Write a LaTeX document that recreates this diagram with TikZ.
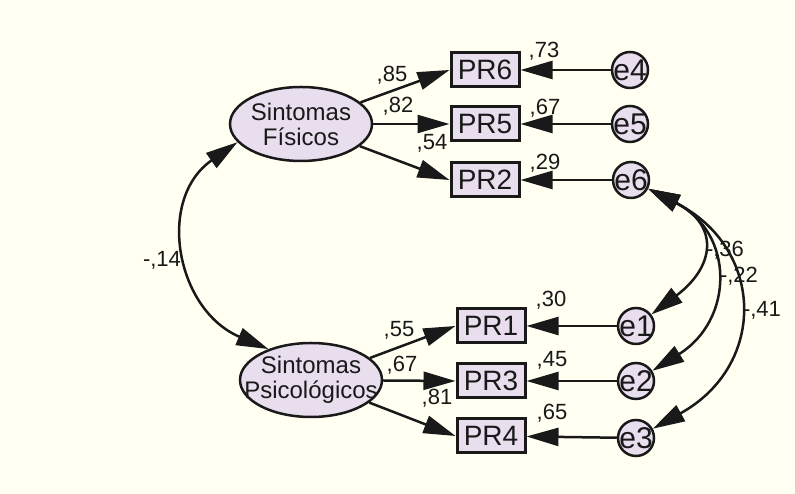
\documentclass[tikz,border=0pt]{standalone}
\usepackage{fontspec}
\setmainfont{Liberation Sans}
\usetikzlibrary{arrows.meta,shapes.geometric}
\definecolor{bg}{RGB}{255,255,242}
\definecolor{nodefill}{RGB}{232,222,238}
\definecolor{ink}{RGB}{25,25,25}
\begin{document}
\begin{tikzpicture}[x=1pt,y=1pt,
  latent/.style={ellipse,draw=ink,line width=2.5pt,fill=nodefill,minimum width=142pt,minimum height=74pt,inner sep=0pt},
  latenttext/.style={align=center,inner sep=0pt,text=ink,font=\fontsize{24}{25}\selectfont},
  obs/.style={rectangle,draw=ink,line width=3pt,fill=nodefill,minimum width=68pt,minimum height=34pt,inner sep=0pt,text=ink,font=\fontsize{28}{30}\selectfont},
  err/.style={circle,draw=ink,line width=2.5pt,fill=nodefill,minimum size=36pt,inner sep=0pt},
  errtext/.style={inner sep=0pt,text=ink,font=\fontsize{30}{32}\selectfont},
  lab/.style={font=\fontsize{22}{24}\selectfont,anchor=base,inner sep=0pt,text=ink},
  arr/.style={draw=ink,line width=2.5pt,-{Triangle[length=32pt,width=18pt]}},
  dbl/.style={draw=ink,line width=2.5pt,{Triangle[length=32pt,width=18pt]}-{Triangle[length=32pt,width=18pt]}}
]
\fill[bg] (0,0) rectangle (795,494);
\useasboundingbox (0,0) rectangle (795,494);

% latent variables
\node[latent] (F) at (301,370) {};
\node[latenttext] (Ft) at (301,370) {Sintomas\\Físicos};
\node[latent] (P) at (311,114) {};
\node[latenttext] (Pt) at (311,114) {Sintomas\\Psicológicos};

% observed
\node[obs] (pr6) at (485,424) {PR6};
\node[obs] (pr5) at (485,370) {PR5};
\node[obs] (pr2) at (485,314) {PR2};
\node[obs] (pr1) at (491,168) {PR1};
\node[obs] (pr3) at (491,113) {PR3};
\node[obs] (pr4) at (491,58) {PR4};

% errors
\node[err] (e4) at (630,424) {};
\node[err] (e5) at (630,370) {};
\node[err] (e6) at (631,314) {};
\node[err] (e1) at (636,168) {};
\node[err] (e2) at (636,113) {};
\node[err] (e3) at (636,56) {};
\node[errtext] (t4) at (e4) {e4};
\node[errtext] (t5) at (e5) {e5};
\node[errtext] (t6) at (e6) {e6};
\node[errtext] (t1) at (e1) {e1};
\node[errtext] (t2) at (e2) {e2};
\node[errtext] (t3) at (e3) {e3};

% loadings
\draw[arr] (F) -- (pr6.west);
\draw[arr] (F) -- (pr5.west);
\draw[arr] (F) -- (pr2.west);
\draw[arr] (P) -- (pr1.west);
\draw[arr] (P) -- (pr3.west);
\draw[arr] (P) -- (pr4.west);

% error paths
\draw[arr] (e4) -- (pr6);
\draw[arr] (e5) -- (pr5);
\draw[arr] (e6) -- (pr2);
\draw[arr] (e1) -- (pr1);
\draw[arr] (e2) -- (pr3);
\draw[arr] (e3) -- (pr4);

% covariances
\draw[dbl] (F.196) to[out=215,in=157,out distance=100pt,in distance=100pt] (P.144);
\draw[dbl] (e6.-27) to[out=-27,in=37,out distance=80pt,in distance=80pt] (e1.37);
\draw[dbl] (e6.-27) to[out=-27,in=32,out distance=97pt,in distance=97pt] (e2.32);
\draw[dbl] (e6.-27) to[out=-27,in=29,out distance=131pt,in distance=131pt] (e3.29);

% labels
\node[lab] (l85) at (392,412) {,85};
\node[lab] (l82) at (398,381) {,82};
\node[lab] (l54) at (432,344) {,54};
\node[lab] (l73) at (544,436) {,73};
\node[lab] (l67a) at (545,379) {,67};
\node[lab] (l29) at (545,324) {,29};
\node[lab] (l30) at (551,187) {,30};
\node[lab] (l45) at (552,127) {,45};
\node[lab] (l65) at (552,74) {,65};
\node[lab] (l55) at (399,157) {,55};
\node[lab] (l67b) at (402,122) {,67};
\node[lab] (l81) at (437,89) {,81};
\node[lab] (l14) at (162,227) {-,14};
\node[lab] (l36) at (725,237) {-,36};
\node[lab] (l22) at (739,211) {-,22};
\node[lab] (l41) at (762,177) {-,41};
\end{tikzpicture}
\end{document}
